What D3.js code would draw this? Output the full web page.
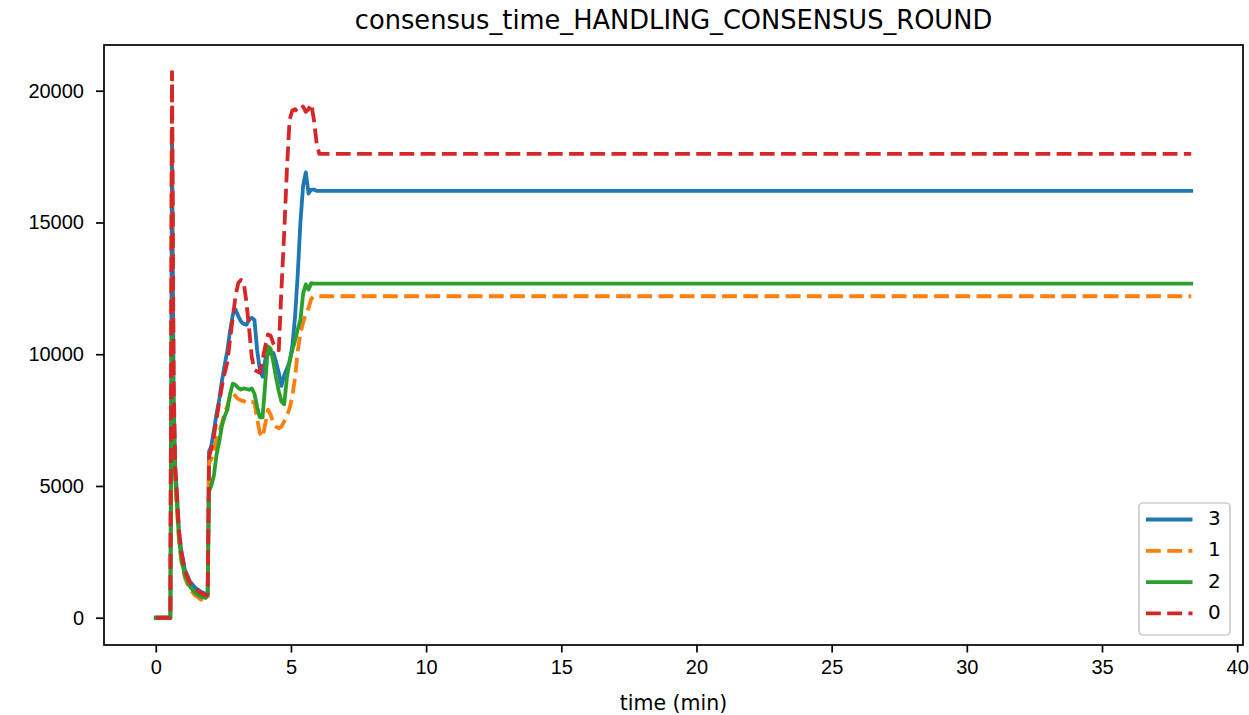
<!DOCTYPE html>
<html>
<head>
<meta charset="utf-8">
<script src="https://cdn.jsdelivr.net/npm/d3@7"></script>
<style>
  body { margin: 0; background: #fff; }
  svg { font-family: "DejaVu Sans", sans-serif; }
</style>
</head>
<body>
<div id="chart"></div>
<script>
// time (min), shared by every series
let times = [0, 0.54, 0.60, 0.66, 0.72, 0.79, 0.86, 0.95, 1.08, 1.25, 1.45, 1.65, 1.85, 1.92, 1.97,
  2.05, 2.15, 2.25, 2.35, 2.45, 2.55, 2.65, 2.75, 2.85, 2.95, 3.05, 3.15, 3.25, 3.35, 3.45,
  3.55, 3.65, 3.75, 3.85, 3.95, 4.05, 4.15, 4.25, 4.35, 4.45, 4.55, 4.65, 4.75, 4.85, 4.95,
  5.05, 5.15, 5.25, 5.35, 5.45, 5.55, 5.65, 5.75, 5.85, 5.95, 6.05, 6.15, 6.30, 38.3];

let seriesNames = ["3", "1", "2", "0"];

let values3 = [0, 0, 18500, 8500, 5700, 4600, 3200, 2500, 1800, 1400, 1150, 1000, 900, 950, 6300,
  6500, 7100, 7750, 8300, 9000, 9600, 10150, 10900, 11500, 11700, 11450, 11250, 11150, 11120, 11300,
  11380, 11300, 10150, 9400, 9150, 9800, 10000, 10100, 10050, 9700, 9300, 8800, 9200, 9450, 9700,
  10300, 11400, 13000, 15000, 16400, 16900, 16100, 16250, 16250, 16200, 16200, 16200, 16200, 16200];

let values1 = [0, 0, 20700, 7800, 5200, 4000, 2900, 2100, 1500, 1100, 850, 700, 650, 750, 5900,
  6000, 6300, 6800, 7050, 7400, 7800, 8050, 8450, 8550, 8400, 8300, 8250, 8220, 8180, 8150,
  8200, 8150, 7550, 7000, 6850, 7350, 7900, 7700, 7400, 7250, 7200, 7250, 7450, 7650, 7950,
  8400, 9100, 10100, 10800, 11200, 11550, 11750, 12100, 12200, 12200, 12200, 12200, 12200, 12200];

let values2 = [0, 0, 11000, 7500, 5300, 4200, 3000, 2200, 1600, 1200, 950, 800, 750, 850, 4800,
  5000, 5400, 6200, 6700, 7300, 7650, 7900, 8500, 8880, 8830, 8720, 8660, 8700, 8680, 8650,
  8700, 8500, 8000, 7600, 7600, 8900, 10300, 10200, 9700, 9100, 8600, 8200, 8100, 9100, 9750,
  10150, 10500, 10950, 11300, 12300, 12650, 12450, 12700, 12680, 12680, 12680, 12680, 12680, 12680];

let values0 = [0, 0, 20700, 9000, 5700, 4500, 3300, 2500, 1800, 1350, 1100, 950, 850, 900, 6100,
  6400, 6900, 7550, 8200, 8800, 9300, 9700, 10600, 11400, 12200, 12700, 12820, 12750, 12000, 11000,
  9900, 9400, 9350, 9300, 9800, 10300, 10750, 10700, 10400, 10200, 10150, 12500, 14600, 17000, 18900,
  19250, 19300, 19200, 19300, 19400, 19200, 19300, 19500, 18900, 18000, 17600, 17600, 17600, 17600];

let xTicks = [0, 5, 10, 15, 20, 25, 30, 35, 40];
let yTicks = [0, 5000, 10000, 15000, 20000];

let colors = {"3": "#1f77b4", "1": "#ff7f0e", "2": "#2ca02c", "0": "#d62728"};
let dashed = {"3": false, "1": true, "2": false, "0": true};
let dashPattern = "14.8,6.4";

let width = 1249, height = 715;
let plot = {left: 104, right: 1243, top: 45, bottom: 645};

let series = [values3, values1, values2, values0].map(function(vals, i) {
  return {name: seriesNames[i], points: times.map(function(t, j) { return [t, vals[j]]; })};
});

let svg = d3.select("#chart").append("svg")
  .attr("width", width)
  .attr("height", height);

// matplotlib style 5% margins
let xExt = d3.extent(times);
let allVals = [].concat(values3, values1, values2, values0);
let yExt = d3.extent(allVals);
let xPad = (xExt[1] - xExt[0]) * 0.05, yPad = (yExt[1] - yExt[0]) * 0.05;

let x = d3.scaleLinear()
  .domain([xExt[0] - xPad, xExt[1] + xPad])
  .range([plot.left, plot.right]);

let y = d3.scaleLinear()
  .domain([yExt[0] - yPad, yExt[1] + yPad])
  .range([plot.bottom, plot.top]);

let line = d3.line()
  .x(function(d) { return x(d[0]); })
  .y(function(d) { return y(d[1]); });

svg.append("clipPath").attr("id", "clip")
  .append("rect")
  .attr("x", plot.left).attr("y", plot.top)
  .attr("width", plot.right - plot.left).attr("height", plot.bottom - plot.top);

svg.append("g").attr("clip-path", "url(#clip)")
  .selectAll("path")
  .data(series)
  .enter()
  .append("path")
  .attr("d", function(d) { return line(d.points); })
  .attr("fill", "none")
  .attr("stroke", function(d) { return colors[d.name]; })
  .attr("stroke-width", 3.8)
  .attr("stroke-linejoin", "round")
  .attr("stroke-linecap", function(d) { return dashed[d.name] ? "butt" : "square"; })
  .attr("stroke-dasharray", function(d) { return dashed[d.name] ? dashPattern : null; });

// axes
let xAxis = svg.append("g")
  .attr("transform", `translate(0,${plot.bottom})`)
  .call(d3.axisBottom(x).tickValues(xTicks).tickSize(7.5).tickPadding(7).tickFormat(d3.format("d")));

let yAxis = svg.append("g")
  .attr("transform", `translate(${plot.left},0)`)
  .call(d3.axisLeft(y).tickValues(yTicks).tickSize(8).tickPadding(12).tickFormat(d3.format("d")));

[xAxis, yAxis].forEach(function(a) {
  a.select(".domain").remove();
  a.selectAll(".tick line").attr("stroke", "#000").attr("stroke-width", 1.7);
  a.selectAll(".tick text").attr("fill", "#000").style("font-size", "20px");
});

svg.append("rect")
  .attr("x", plot.left).attr("y", plot.top)
  .attr("width", plot.right - plot.left).attr("height", plot.bottom - plot.top)
  .attr("fill", "none")
  .attr("stroke", "#000")
  .attr("stroke-width", 1.7);

svg.append("text")
  .attr("x", (plot.left + plot.right) / 2)
  .attr("y", 704)
  .attr("text-anchor", "middle")
  .attr("dominant-baseline", "middle")
  .style("font-size", "20.5px")
  .text("time (min)");

svg.append("text")
  .attr("x", (plot.left + plot.right) / 2)
  .attr("y", 21)
  .attr("text-anchor", "middle")
  .attr("dominant-baseline", "middle")
  .style("font-size", "25.7px")
  .text("consensus_time_HANDLING_CONSENSUS_ROUND");

// legend
let legend = svg.append("g");
legend.append("rect")
  .attr("x", 1139).attr("y", 503)
  .attr("width", 91).attr("height", 132)
  .attr("rx", 4)
  .attr("fill", "#fff").attr("fill-opacity", 0.8)
  .attr("stroke", "#cccccc").attr("stroke-width", 1.7);

let items = legend.selectAll("g.item")
  .data(seriesNames)
  .enter()
  .append("g")
  .attr("class", "item")
  .attr("transform", function(d, i) { return `translate(0,${519.5 + i * 31.3})`; });

items.append("line")
  .attr("x1", 1146).attr("x2", 1192.5)
  .attr("stroke", function(d) { return colors[d]; })
  .attr("stroke-width", 3.8)
  .attr("stroke-dasharray", function(d) { return dashed[d] ? dashPattern : null; });

items.append("text")
  .attr("x", 1208)
  .attr("dominant-baseline", "middle")
  .style("font-size", "20px")
  .text(function(d) { return d; });
</script>
</body>
</html>
